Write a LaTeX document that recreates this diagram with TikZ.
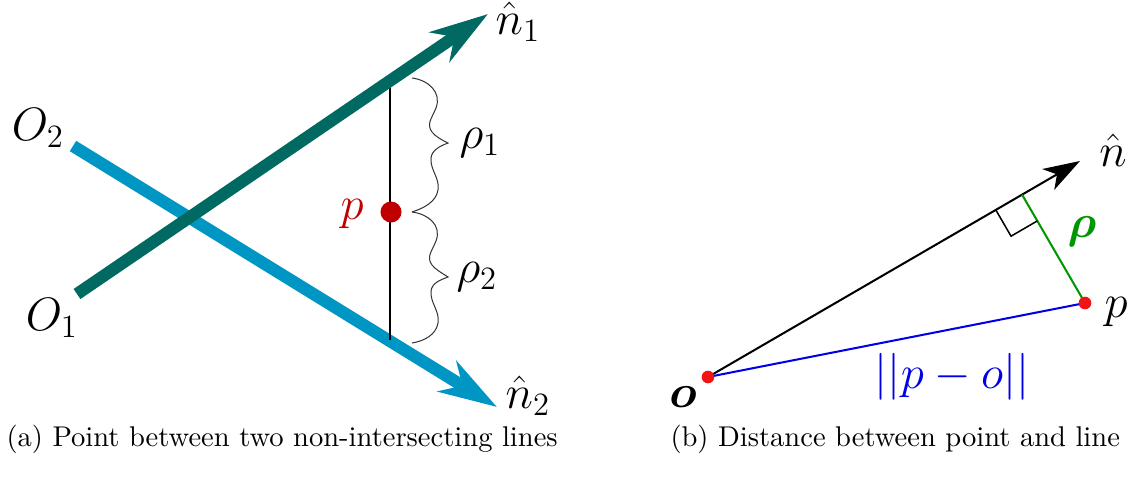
\documentclass[tikz,border=0pt]{standalone}
\usepackage{amsmath,bm}
\usepackage{graphicx}
\usetikzlibrary{arrows.meta,calc}
\definecolor{tealc}{RGB}{0,106,98}
\definecolor{bluec}{RGB}{0,150,195}
\definecolor{dotred}{RGB}{192,0,0}
\definecolor{ptred}{RGB}{240,20,20}
\definecolor{greenc}{RGB}{0,150,0}
\definecolor{bluel}{RGB}{0,0,230}
\newcommand\biglbl[1]{\scalebox{1.07}{\LARGE #1}}
\newcommand\captxt[1]{\scalebox{1.03}{\fontsize{10.95}{13}\selectfont #1}}
\tikzset{
  thickarrow/.style={line width=4.8pt,-{Stealth[length=23pt,width=14pt,inset=7pt]}},
  lbl/.style={inner sep=0pt},
  capt/.style={anchor=base west,inner sep=0pt},
  wave/.style={draw,line width=0.4pt,black!80},
  bigdot/.style={circle,fill=dotred,minimum size=8.3pt,inner sep=0pt},
  smalldot/.style={circle,fill=ptred,minimum size=5pt,inner sep=0pt},
}
\begin{document}
\begin{tikzpicture}[x=0.395pt,y=-0.395pt]
\useasboundingbox (0,0) rectangle (1133,481);
% ---------- (a) ----------
\coordinate (O1s) at (77,294);
\coordinate (n1t) at (488,14);
\coordinate (O2s) at (73,146);
\coordinate (n2t) at (497,407);
\coordinate (top) at (390,81);
\coordinate (bot) at (390,340);
\draw[thickarrow,bluec] (O2s) -- (n2t);
\draw[line width=0.6pt] (top) -- (bot);
\draw[thickarrow,tealc] (O1s) -- (n1t);
\node[bigdot] (pd) at (391,212) {};
\node[lbl,text=dotred] (plab) at (352,214) {\biglbl{$p$}};
\draw[wave] (412,78) .. controls (428,80) and (442,92) .. (436,108)
  .. controls (432,118) and (426,124) .. (432,132)
  .. controls (436,137) and (442,140) .. (448,143)
  .. controls (440,146) and (432,150) .. (431,158)
  .. controls (430,170) and (440,178) .. (438,190)
  .. controls (436,202) and (424,208) .. (412,212);
\begin{scope}[shift={(0,133)}]
\draw[wave] (412,79) .. controls (428,81) and (442,92) .. (436,108)
  .. controls (432,118) and (426,124) .. (432,132)
  .. controls (436,137) and (442,140) .. (448,144)
  .. controls (440,147) and (432,150) .. (431,158)
  .. controls (430,170) and (440,178) .. (438,190)
  .. controls (436,202) and (424,208) .. (412,210);
\end{scope}
\node[lbl] (n1) at (518,22) {\biglbl{$\hat{n}_1$}};
\node[lbl] (n2) at (528,396) {\biglbl{$\hat{n}_2$}};
\node[lbl] (O2) at (38,128) {\biglbl{$O_2$}};
\node[lbl] (O1) at (52,318) {\biglbl{$O_1$}};
\node[lbl] (r1) at (480,143) {\biglbl{$\rho_1$}};
\node[lbl] (r2) at (477,277) {\biglbl{$\rho_2$}};
% ---------- (b) ----------
\coordinate (o) at (708,377);
\coordinate (p) at (1085,303);
\coordinate (nt) at (1080,161);
\coordinate (f) at ($(o)!(p)!(nt)$);
\draw[line width=0.8pt,-{Stealth[length=14.5pt,width=9.5pt,inset=4pt]}] (o) -- (nt);
\draw[line width=0.8pt,greenc] (f) -- (p);
\draw[line width=0.8pt,bluel] (o) -- (p);
\coordinate (ra1) at ($(f)!12pt!(o)$);
\coordinate (ra3) at ($(f)!12pt!(p)$);
\draw[line width=0.6pt] (ra1) -- ($(ra1)+(ra3)-(f)$) -- (ra3);
\node[smalldot] (od) at (o) {};
\node[smalldot] (pd2) at (p) {};
\node[lbl] (nh) at (1113,150) {\biglbl{$\hat{n}$}};
\node[lbl,text=greenc] (rho) at (1082,232) {\biglbl{$\bm{\rho}$}};
\node[lbl] (plb) at (1116,312) {\biglbl{$p$}};
\node[lbl] (olb) at (683,397) {\biglbl{$\bm{o}$}};
\node[lbl,text=bluel] (dist) at (952,377) {\biglbl{$||p-o||$}};
% ---------- captions ----------
\node[capt] (ca) at (6,446) {\captxt{(a) Point between two non-intersecting lines}};
\node[capt] (cb) at (670,446) {\captxt{(b) Distance between point and line}};
\end{tikzpicture}
\end{document}
